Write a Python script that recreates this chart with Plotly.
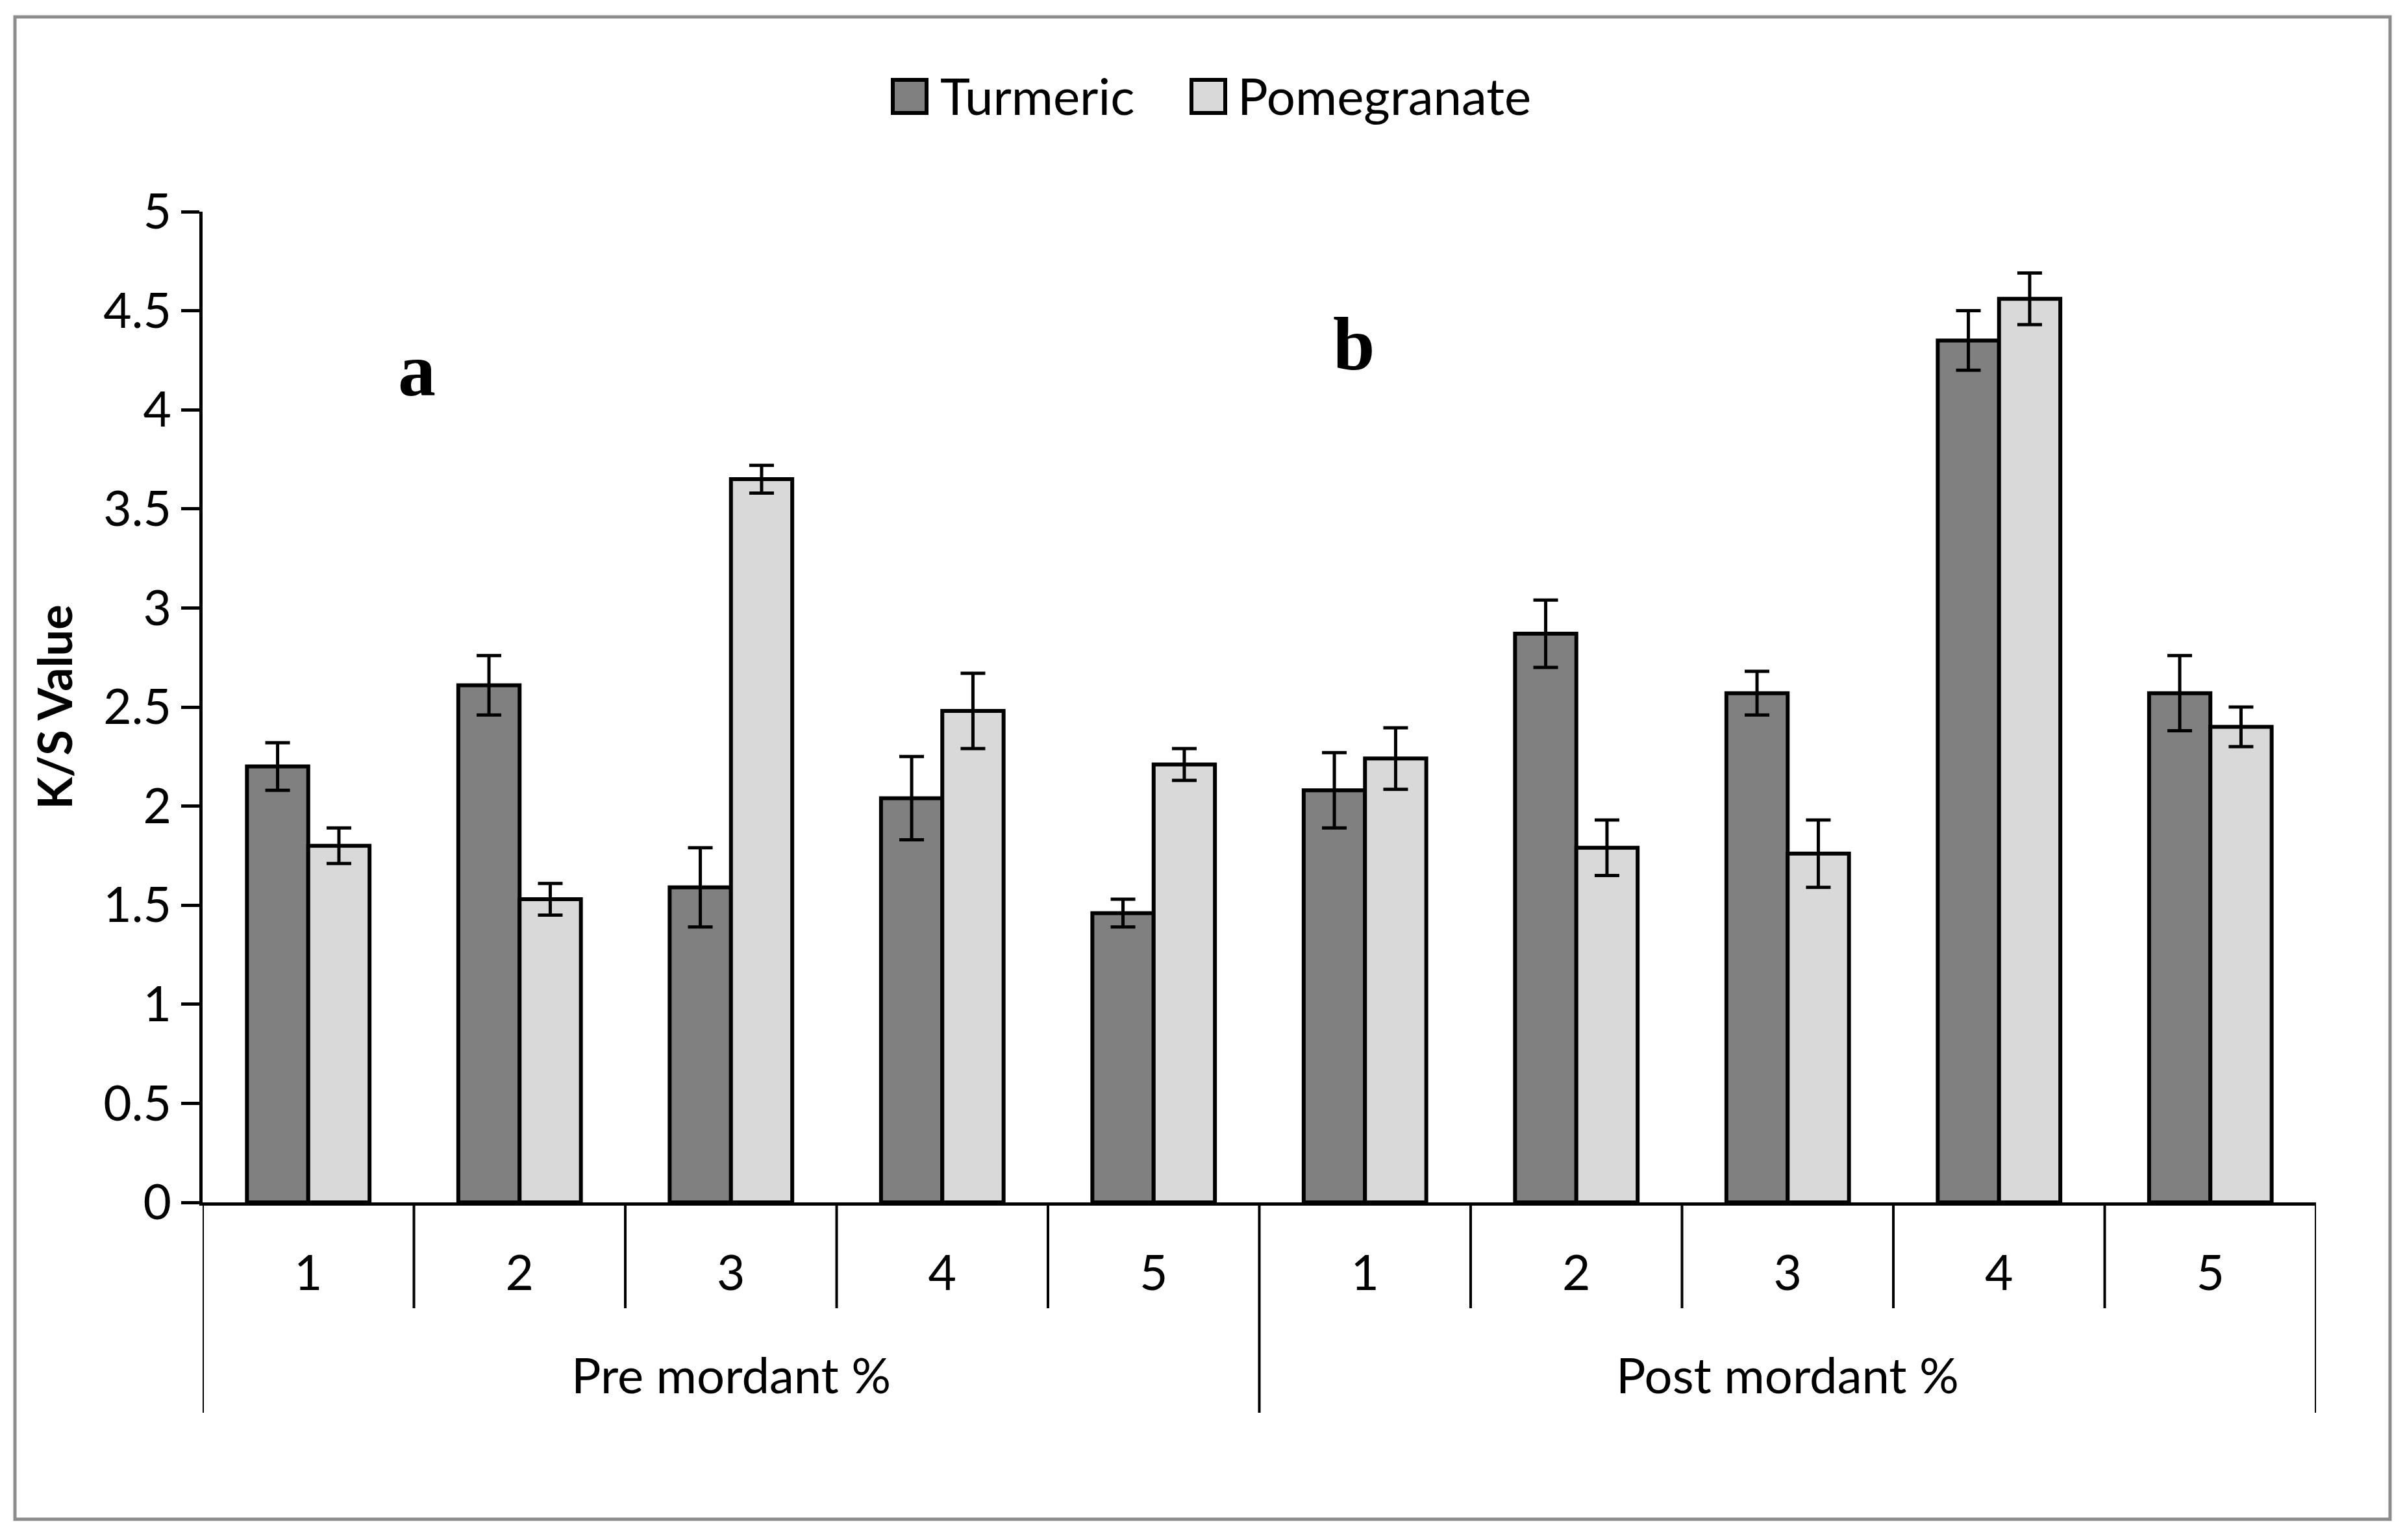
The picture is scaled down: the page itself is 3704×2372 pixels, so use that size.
import plotly.graph_objects as go

# ---- data ----
groups = ["Pre mordant %", "Post mordant %"]
levels = ["1", "2", "3", "4", "5"]
series_names = ["Turmeric", "Pomegranate"]

turmeric_pre = [2.20, 2.61, 1.59, 2.04, 1.46]
turmeric_post = [2.08, 2.87, 2.57, 4.35, 2.57]
turmeric_pre_err = [0.12, 0.15, 0.20, 0.21, 0.07]
turmeric_post_err = [0.19, 0.17, 0.11, 0.15, 0.19]

pomegranate_pre = [1.80, 1.53, 3.65, 2.48, 2.21]
pomegranate_post = [2.24, 1.79, 1.76, 4.56, 2.40]
pomegranate_pre_err = [0.09, 0.08, 0.07, 0.19, 0.08]
pomegranate_post_err = [0.155, 0.14, 0.17, 0.13, 0.10]

panel_labels = ["a", "b"]
y_ticks = [0, 0.5, 1, 1.5, 2, 2.5, 3, 3.5, 4, 4.5, 5]

# ---- geometry (screen pixels of the target picture) ----
PAGE_OFF = 8                       # default body margin of the page
W, H = 3704 - 2 * PAGE_OFF, 2372 - 2 * PAGE_OFF
PL, PR, PT, PB = 312, 3567, 326, 1852   # plot area on screen
ML, MT = PL - PAGE_OFF, PT - PAGE_OFF
MR, MB = W - (PR - PAGE_OFF), H - (PB - PAGE_OFF)
PW, PH = PR - PL, PB - PT


def px(X):
    return (X - PL) / PW


def py(Y):
    return (PB - Y) / PH


tick_text = levels * len(groups)
xpos = list(range(len(tick_text)))

colors = {"Turmeric": "#808080", "Pomegranate": "#D9D9D9"}
values = {
    "Turmeric": (turmeric_pre + turmeric_post, turmeric_pre_err + turmeric_post_err),
    "Pomegranate": (pomegranate_pre + pomegranate_post, pomegranate_pre_err + pomegranate_post_err),
}

FONT = "Lato"

fig = go.Figure()
for name in series_names:
    vals, errs = values[name]
    fig.add_trace(go.Bar(
        name=name, x=xpos, y=vals, showlegend=False,
        marker=dict(color=colors[name], line=dict(color="black", width=6)),
        error_y=dict(type="data", array=errs, visible=True,
                     color="black", thickness=5, width=19),
    ))

# legend (swatches + labels)
legend_sq_x = [1375, 1835]
legend_txt_x = [1446, 1904]
for name, sx, tx in zip(series_names, legend_sq_x, legend_txt_x):
    fig.add_shape(type="rect", xref="paper", yref="paper",
                  x0=px(sx), x1=px(sx + 52), y0=py(174), y1=py(123),
                  fillcolor=colors[name], line=dict(color="black", width=6))
    fig.add_annotation(x=px(tx), y=py(147), xref="paper", yref="paper",
                       text=name, showarrow=False, xanchor="left", yanchor="middle",
                       font=dict(family=FONT, size=78, color="black"))

# category divider lines (short between levels, long at group edges)
n = len(tick_text)
for i in range(n + 1):
    xb = i - 0.5
    outer = (i % len(levels) == 0)
    fig.add_shape(type="line", xref="x", yref="paper",
                  x0=xb, x1=xb, y0=0,
                  y1=-(324 / PH) if outer else -(163 / PH),
                  line=dict(color="black", width=4))

# group labels
for gi, g in enumerate(groups):
    center = sum(xpos[gi * len(levels):(gi + 1) * len(levels)]) / len(levels)
    fig.add_annotation(x=center, xref="x", y=py(2116), yref="paper",
                       text=g, showarrow=False, yanchor="middle",
                       font=dict(family=FONT, size=76, color="black"))

# panel labels a / b
panel_pos = [(0.514, 4.20), (4.95, 4.33)]
for lab, (ax_, ay_) in zip(panel_labels, panel_pos):
    fig.add_annotation(x=ax_, y=ay_, xref="x", yref="y", text="<b>%s</b>" % lab,
                       showarrow=False,
                       font=dict(family="Liberation Serif", size=116, color="black"))

# outer chart border
fig.add_shape(type="rect", xref="paper", yref="paper",
              x0=px(23), x1=px(3681), y0=py(2340), y1=py(26),
              line=dict(color="#8c8c8c", width=5), layer="below")

fig.update_layout(
    width=W, height=H,
    margin=dict(l=ML, r=MR, t=MT, b=MB),
    paper_bgcolor="white", plot_bgcolor="white",
    barmode="group", bargap=0.42, bargroupgap=0,
    font=dict(family=FONT, size=75, color="black"),
    showlegend=False,
)
fig.update_xaxes(
    range=[-0.5, n - 0.5], tickmode="array", tickvals=xpos, ticktext=tick_text,
    showline=True, linecolor="black", linewidth=5, ticks="",
    showgrid=False, zeroline=False, ticklabelstandoff=40,
    tickfont=dict(family=FONT, size=75, color="black"),
)
fig.update_yaxes(
    range=[0, 5], tickmode="array", tickvals=y_ticks,
    ticktext=[("%g" % v) for v in y_ticks],
    showline=True, linecolor="black", linewidth=5,
    ticks="outside", ticklen=28, tickwidth=5, tickcolor="black",
    showgrid=False, zeroline=False,
    tickfont=dict(family=FONT, size=75, color="black"),
    title=dict(text="<b>K/S Value</b>", standoff=26,
               font=dict(family=FONT, size=72, color="black")),
)

fig.write_html("out.html")
